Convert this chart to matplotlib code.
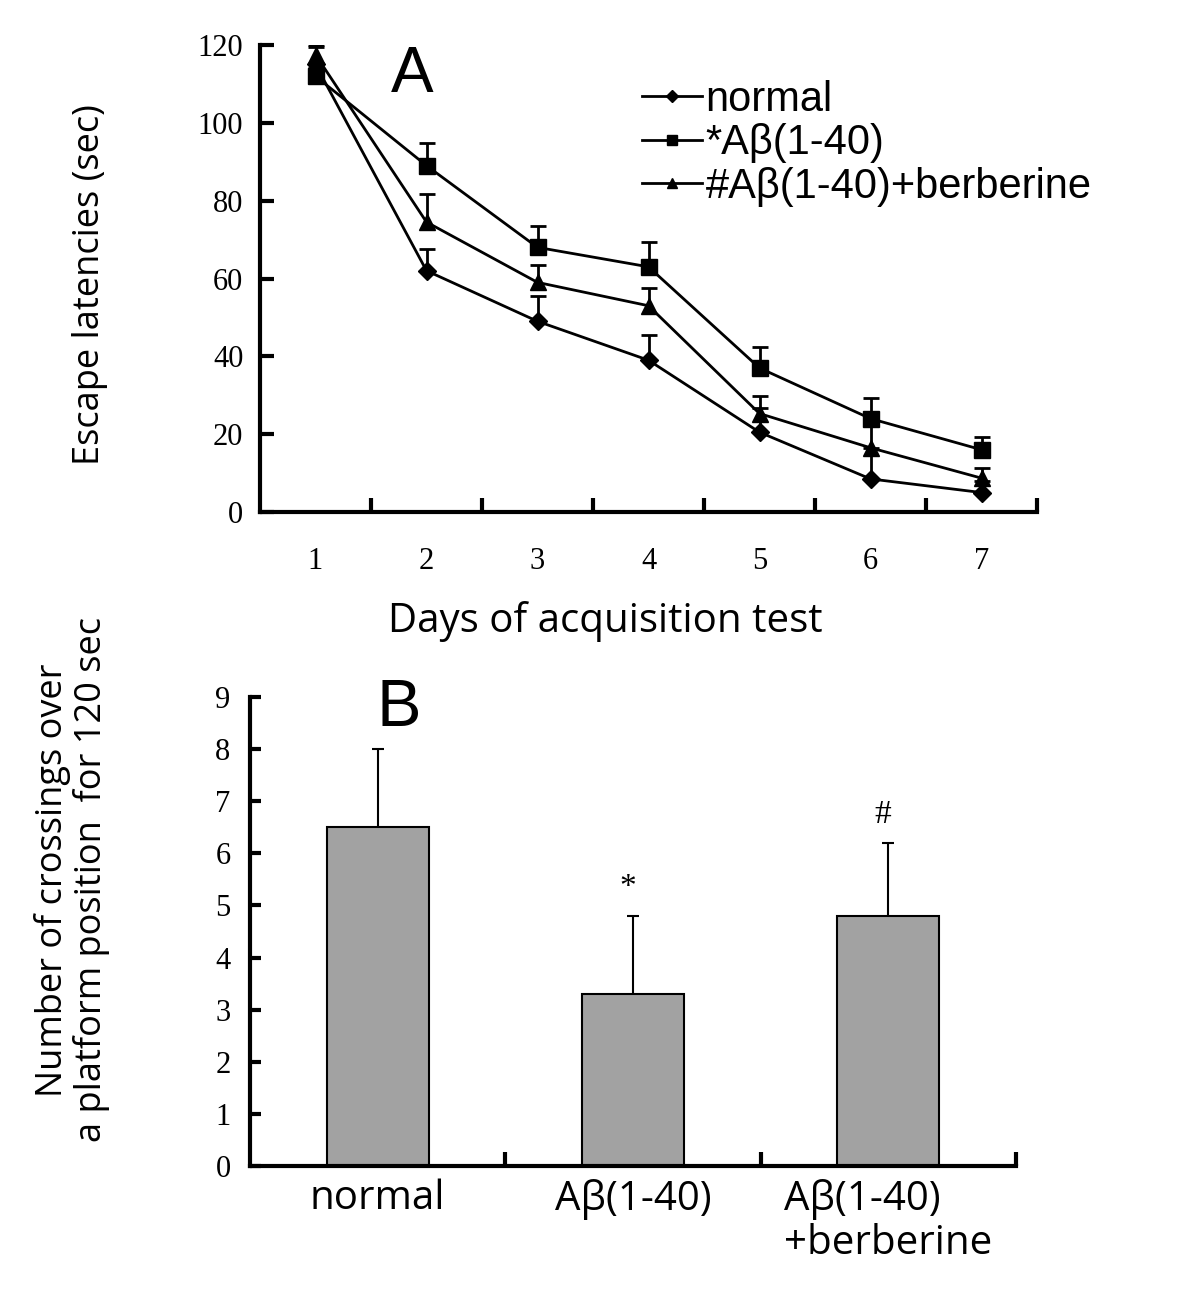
import numpy as np
import matplotlib.pyplot as plt
from matplotlib.ticker import FixedLocator
from matplotlib.lines import Line2D

# panel A data: escape latencies (sec), upper error only
days = [1, 2, 3, 4, 5, 6, 7]
normal = [115, 62, 49, 39, 20.5, 8.5, 5]
normal_err = [4.5, 5.5, 6.5, 6.5, 6.3, 8, 3]
abeta = [112, 89, 68, 63, 37, 24, 16]
abeta_err = [2, 5.7, 5.5, 6.4, 5.3, 5.2, 3.2]
berb = [117.5, 74.5, 59, 53, 25.3, 16.5, 8.7]
berb_err = [2.5, 7.2, 4.4, 4.5, 4.5, 7.5, 2.5]
legend_labels = ['normal', '*A\u03b2(1-40)', '#A\u03b2(1-40)+berberine']

# panel B data: crossings over platform
groups = ['normal', 'A\u03b2(1-40)', 'A\u03b2(1-40)\n+berberine']
crossings = [6.5, 3.3, 4.8]
crossings_err = [1.5, 1.5, 1.4]
marks = ['', '*', '#']

serif = 'Liberation Serif'
sans = 'Liberation Sans'
label_font = 'Open Sans'

fig = plt.figure(figsize=(12, 12.98), dpi=100)

# ---------------- panel A ----------------
ax1 = fig.add_axes([260/1200, 1-512/1298, 777/1200, 467/1298])
handles = []
for y, e, mk, lab in [(normal, normal_err, 'D', legend_labels[0]),
                      (abeta, abeta_err, 's', legend_labels[1]),
                      (berb, berb_err, '^', legend_labels[2])]:
    eb = ax1.errorbar(days, y, yerr=[np.zeros(len(e)), e], fmt='none', ecolor='black',
                      capsize=6, capthick=2, elinewidth=2)
    eb[1][0].set_visible(False)  # hide lower caps
    ax1.plot(days, y, color='black', lw=2, marker=mk, ms=11 if mk != 'D' else 9)
    handles.append(Line2D([], [], color='black', lw=2, marker=mk,
                          ms=7 if mk != 'D' else 6, label=lab))
ax1.set_xlim(0.5, 7.5)
ax1.set_ylim(0, 120)
ax1.spines[['top', 'right']].set_visible(False)
for s in ['left', 'bottom']:
    ax1.spines[s].set_linewidth(3)
ax1.set_xticks(days)
ax1.xaxis.set_minor_locator(FixedLocator(np.arange(1.5, 8, 1)))
ax1.tick_params(axis='x', which='major', length=0, pad=25)
ax1.tick_params(axis='x', which='minor', direction='in', length=10, width=3)
ax1.set_yticks(range(0, 121, 20))
ax1.tick_params(axis='y', direction='in', length=10, width=3, pad=12)
for t in ax1.get_xticklabels() + ax1.get_yticklabels():
    t.set_fontfamily(serif)
    t.set_fontsize(22)
fig.text(605/1200, 1-622/1298, 'Days of acquisition test', fontfamily=label_font,
         fontsize=29, ha='center', va='center')
fig.text(90/1200, 1-285/1298, 'Escape latencies (sec)', fontfamily=label_font,
         fontsize=26, ha='center', va='center', rotation=90)
ax1.text(0.168, 1.0, 'A', transform=ax1.transAxes, fontfamily=sans, fontsize=46,
         va='top', ha='left')
ax1.legend(handles=handles, loc='upper left', bbox_to_anchor=(0.4645, 0.97), frameon=False,
           prop={'family': sans, 'size': 30}, handlelength=1.45,
           handletextpad=0.08, labelspacing=0.08, borderpad=0)

# ---------------- panel B ----------------
ax2 = fig.add_axes([250/1200, 1-1166/1298, 766/1200, 469/1298])
xpos = np.arange(len(groups))
ax2.bar(xpos, crossings, width=0.4, color='#a2a2a2', edgecolor='black', linewidth=1.5)
eb2 = ax2.errorbar(xpos, crossings, yerr=[np.zeros(3), crossings_err], fmt='none',
                   ecolor='black', elinewidth=1.5, capsize=4.5, capthick=1.5)
eb2[1][0].set_visible(False)
for x, v, e, m in zip(xpos, crossings, crossings_err, marks):
    if m:
        ax2.text(x - 0.02, v + e + 0.25, m, ha='center', va='bottom',
                 fontfamily=serif, fontsize=24)
ax2.set_xlim(-0.5, 2.5)
ax2.set_ylim(0, 9)
ax2.spines[['top', 'right']].set_visible(False)
for s in ['left', 'bottom']:
    ax2.spines[s].set_linewidth(3)
ax2.set_xticks(xpos)
ax2.set_xticklabels(groups, fontfamily=label_font, fontsize=29, linespacing=1.12,
                    multialignment='left')
ax2.xaxis.set_minor_locator(FixedLocator([0.5, 1.5, 2.5]))
ax2.tick_params(axis='x', which='major', length=0, pad=9)
ax2.tick_params(axis='x', which='minor', direction='in', length=10, width=3)
ax2.set_yticks(range(0, 10))
ax2.tick_params(axis='y', direction='in', length=8, width=3, pad=14)
for t in ax2.get_yticklabels():
    t.set_fontfamily(serif)
    t.set_fontsize(22)
fig.text(72/1200, 1-880/1298, 'Number of crossings over\na platform position  for 120 sec',
         fontfamily=label_font, fontsize=26, ha='center', va='center', rotation=90,
         linespacing=1.05)
ax2.text(0.165, 1.04, 'B', transform=ax2.transAxes, fontfamily=sans, fontsize=48,
         va='top', ha='left')

fig.savefig('out.png', dpi=100)
